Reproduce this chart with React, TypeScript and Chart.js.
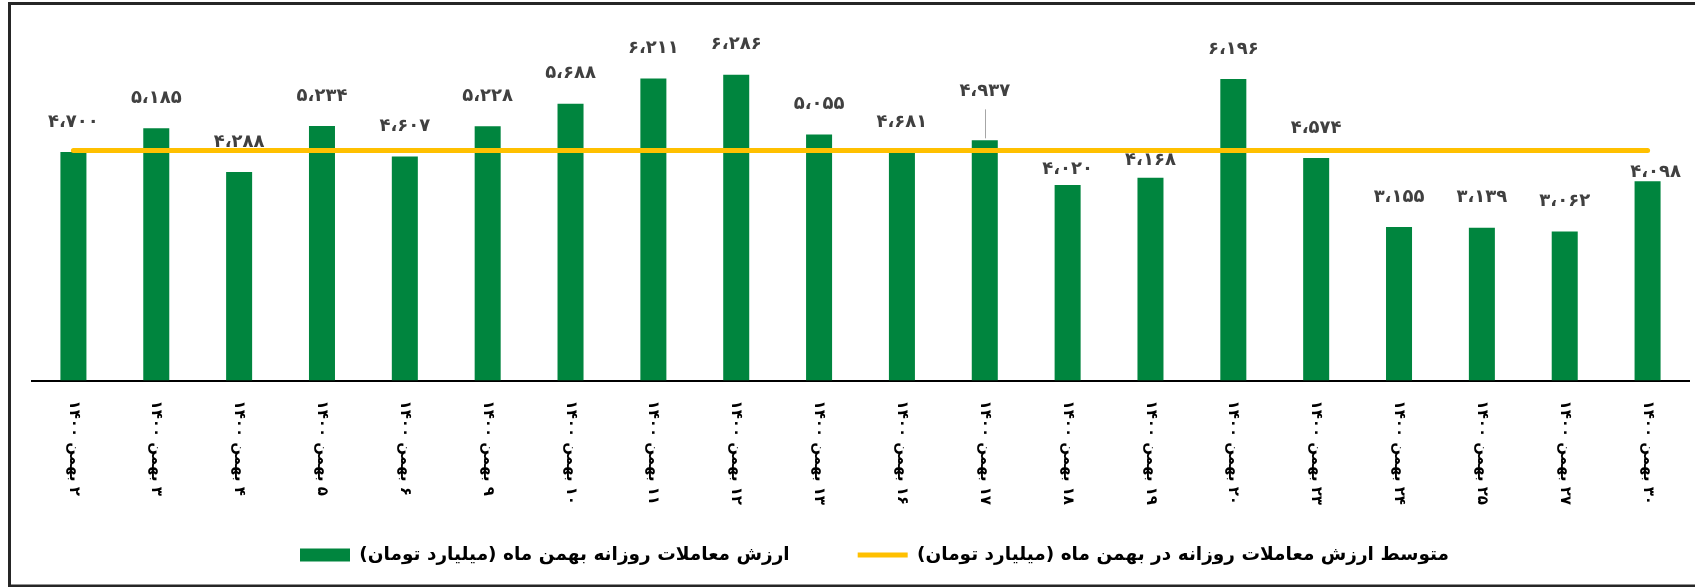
import React, { useEffect, useRef } from 'react';
import { Chart, registerables } from 'chart.js';

Chart.register(...registerables);

const CATEGORIES = [
  '۲ بهمن ۱۴۰۰', '۳ بهمن ۱۴۰۰', '۴ بهمن ۱۴۰۰', '۵ بهمن ۱۴۰۰', '۶ بهمن ۱۴۰۰',
  '۹ بهمن ۱۴۰۰', '۱۰ بهمن ۱۴۰۰', '۱۱ بهمن ۱۴۰۰', '۱۲ بهمن ۱۴۰۰', '۱۳ بهمن ۱۴۰۰',
  '۱۶ بهمن ۱۴۰۰', '۱۷ بهمن ۱۴۰۰', '۱۸ بهمن ۱۴۰۰', '۱۹ بهمن ۱۴۰۰', '۲۰ بهمن ۱۴۰۰',
  '۲۳ بهمن ۱۴۰۰', '۲۴ بهمن ۱۴۰۰', '۲۵ بهمن ۱۴۰۰', '۲۷ بهمن ۱۴۰۰', '۳۰ بهمن ۱۴۰۰',
];

const DAILY_VALUES = [
  4700, 5185, 4288, 5234, 4607, 5228, 5688, 6211, 6286, 5055,
  4681, 4937, 4020, 4168, 6196, 4574, 3155, 3139, 3062, 4098,
];

const AVERAGE_VALUES = [
  4726, 4726, 4726, 4726, 4726, 4726, 4726, 4726, 4726, 4726,
  4726, 4726, 4726, 4726, 4726, 4726, 4726, 4726, 4726, 4726,
];

const BAR_LABEL = 'ارزش معاملات روزانه بهمن ماه (میلیارد تومان)';
const LINE_LABEL = 'متوسط ارزش معاملات روزانه در بهمن ماه (میلیارد تومان)';

const Y_MIN = 0;
const Y_MAX = 7000;

// Style: default label lift above bar top, plus a few manually moved labels
const DEFAULT_LIFT = 30;
const LABEL_ADJUST: Record<number, { lift: number; dx?: number; leader?: boolean }> = {
  11: { lift: 49, leader: true },
  12: { lift: 16 },
  13: { lift: 17 },
  19: { lift: 9, dx: 8 },
};

const FA_DIGITS = ['۰', '۱', '۲', '۳', '۴', '۵', '۶', '۷', '۸', '۹'];
function toFa(n: number): string {
  const s = String(n);
  let out = '';
  for (let i = 0; i < s.length; i++) {
    const fromRight = s.length - i;
    out += FA_DIGITS[Number(s[i])];
    if (fromRight > 1 && (fromRight - 1) % 3 === 0) out += '،';
  }
  return out;
}

const FONT = '"DejaVu Sans", "Noto Sans", sans-serif';

const overlayPlugin = {
  id: 'overlay',
  afterLayout(chart: any) {
    const lg = chart.legend;
    if (lg) {
      lg.left += 14;
      lg.right += 14;
    }
  },
  afterDatasetsDraw(chart: any) {
    const ctx = chart.ctx as CanvasRenderingContext2D;
    const meta = chart.getDatasetMeta(0);
    ctx.save();
    ctx.font = `bold 18px ${FONT}`;
    ctx.fillStyle = '#404040';
    ctx.textAlign = 'center';
    ctx.textBaseline = 'middle';
    ctx.direction = 'ltr';
    meta.data.forEach((bar: any, i: number) => {
      const adj = LABEL_ADJUST[i];
      const lift = adj ? adj.lift : DEFAULT_LIFT;
      const dx = adj && adj.dx ? adj.dx : 0;
      const y = bar.y - lift;
      ctx.fillText(toFa(DAILY_VALUES[i]), bar.x + dx, y);
      if (adj && adj.leader) {
        ctx.save();
        ctx.strokeStyle = '#a6a6a6';
        ctx.lineWidth = 1;
        ctx.beginPath();
        ctx.moveTo(Math.round(bar.x) + 0.5, y + 18);
        ctx.lineTo(Math.round(bar.x) + 0.5, bar.y - 2);
        ctx.stroke();
        ctx.restore();
      }
    });
    ctx.restore();
  },
  afterDraw(chart: any) {
    const ctx = chart.ctx as CanvasRenderingContext2D;
    const xs = chart.scales.x;
    const area = chart.chartArea;
    ctx.save();
    ctx.font = `bold 15px ${FONT}`;
    ctx.fillStyle = '#000000';
    ctx.direction = 'rtl';
    ctx.textAlign = 'left';
    ctx.textBaseline = 'middle';
    CATEGORIES.forEach((label, i) => {
      const x = xs.getPixelForValue(i);
      ctx.save();
      ctx.translate(x, area.bottom + 20);
      ctx.rotate(Math.PI / 2);
      ctx.fillText(label, 0, 0);
      ctx.restore();
    });
    ctx.restore();

    // outer frame
    ctx.save();
    ctx.strokeStyle = '#262626';
    ctx.lineWidth = 3;
    ctx.strokeRect(9.5, 3.5, 1700, 582.5);
    ctx.restore();
  },
};

export default function App() {
  const canvasRef = useRef<HTMLCanvasElement | null>(null);

  useEffect(() => {
    if (!canvasRef.current) return;
    Chart.defaults.font.family = FONT;
    const chart = new Chart(canvasRef.current, {
      type: 'bar',
      data: {
        labels: CATEGORIES,
        datasets: [
          {
            type: 'bar',
            label: BAR_LABEL,
            data: DAILY_VALUES,
            backgroundColor: '#00853E',
            borderWidth: 0,
            barPercentage: 0.314,
            categoryPercentage: 1,
            order: 1,
          } as any,
          {
            type: 'line',
            label: LINE_LABEL,
            data: AVERAGE_VALUES,
            borderColor: '#FFC000',
            backgroundColor: '#FFC000',
            borderWidth: 5,
            borderCapStyle: 'round',
            pointRadius: 0,
            pointHoverRadius: 0,
            fill: false,
            tension: 0,
            order: 0,
          } as any,
        ],
      },
      options: {
        animation: false,
        responsive: false,
        maintainAspectRatio: false,
        layout: { padding: { left: 32, right: 6, top: 40, bottom: 12.75 } },
        scales: {
          x: {
            display: true,
            grid: { display: false, drawTicks: false },
            border: { display: true, color: '#000000', width: 2 },
            ticks: { display: false },
            afterFit: (scale: any) => {
              scale.height = 97.25;
            },
          },
          y: {
            display: false,
            min: Y_MIN,
            max: Y_MAX,
          },
        },
        plugins: {
          tooltip: { enabled: false },
          legend: {
            display: true,
            position: 'bottom',
            textDirection: 'rtl',
            labels: {
              usePointStyle: true,
              pointStyleWidth: 50,
              boxHeight: 13,
              padding: 68,
              color: '#000000',
              font: { size: 18.5, weight: 'bold', family: FONT },
              generateLabels: (ch: any) => {
                const items = Chart.defaults.plugins.legend.labels.generateLabels(ch);
                items.forEach((it: any) => {
                  it.pointStyle = it.datasetIndex === 0 ? 'rect' : 'line';
                });
                return items.sort((a: any, b: any) => a.datasetIndex - b.datasetIndex);
              },
            },
          },
        },
      },
      plugins: [overlayPlugin],
    } as any);
    return () => chart.destroy();
  }, []);

  return (
    <div style={{ position: 'fixed', left: 0, top: 0, width: 1695, height: 587, background: '#ffffff' }}>
      <canvas ref={canvasRef} width={1695} height={587} style={{ display: 'block' }} />
    </div>
  );
}
